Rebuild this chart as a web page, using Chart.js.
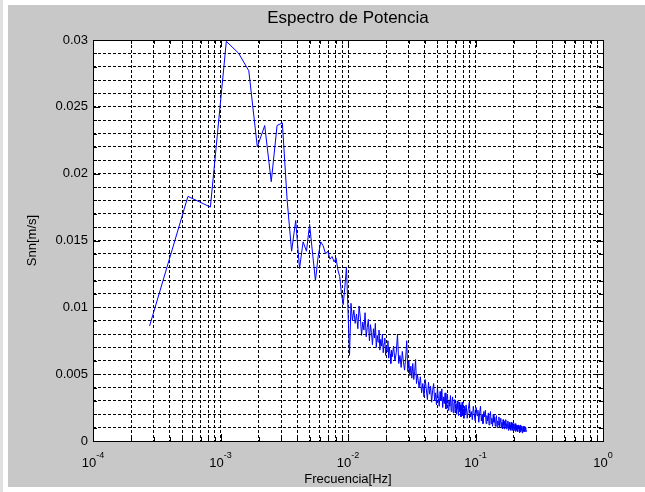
<!DOCTYPE html>
<html>
<head>
<meta charset="utf-8">
<script src="https://cdn.jsdelivr.net/npm/chart.js@4.4.1/dist/chart.umd.min.js"></script>
<style>
    body { margin: 0; background: #fff; width: 645px; height: 492px; overflow: hidden; position: relative; }
    #strip { position: absolute; left: 0; top: 0; width: 3px; height: 492px; background: #e0e0e0; }
    #fig { position: absolute; left: 8px; top: 5px; width: 637px; height: 482px; background: #c8c8c8; }
</style>
</head>
<body>
<div id="strip"></div>
<div id="fig"><canvas id="spectrum" width="637" height="482"></canvas></div>
<script>
// frequency resolution of the spectrum (1 hour record)
const binHz = 1 / 3600;

const bins = [
    1, 2, 3, 4, 5, 6, 7, 8, 9, 10,
    11, 12, 13, 14, 15, 16, 17, 18, 19, 20,
    21, 22, 23, 24, 25, 26, 27, 28, 29, 30,
    31, 32, 33, 34, 35, 36, 37, 38, 39, 40,
    41, 42, 43, 44, 45, 46, 47, 48, 49, 50,
    51, 52, 53, 54, 55, 56, 57, 58, 59, 60,
    61, 62, 63, 64, 65, 66, 67, 68, 69, 70,
    71, 72, 73, 74, 75, 76, 77, 78, 79, 80,
    82, 84, 86, 88, 90, 92, 94, 96, 98, 100,
    102, 104, 106, 108, 110, 112, 114, 116, 118, 120,
    122, 124, 126, 128, 130,
    133, 136, 139, 142, 145, 148, 151, 154, 157, 160,
    163, 166, 169, 172, 175, 178, 181, 184, 187, 190,
    193, 196, 199, 202, 205, 208, 211, 214, 217, 220,
    223, 226, 229, 232, 235, 238, 241, 244, 247, 250,
    253, 256, 259, 262, 265, 268, 271, 274, 277, 280,
    283, 286, 289, 292, 295, 298,
    304, 310, 316, 322, 328, 334, 340, 346, 352, 358,
    364, 370, 376, 382, 388, 394, 400, 406, 412, 418,
    424, 430, 436, 442, 448, 454, 460, 466, 472, 478,
    484, 490, 496, 502, 508, 514, 520, 526, 532, 538,
    544, 550, 556, 562, 568, 574, 580, 586, 592, 598,
    604, 610, 616, 622, 628, 634, 640, 646, 652, 658,
    664, 670, 676, 682, 688, 694, 700, 706, 712, 718,
    724, 730, 736, 742, 748, 754, 760, 766, 772, 778,
    784, 790, 796, 802, 808, 814, 820, 826, 832, 838,
    844, 850, 856, 862, 868, 874, 880, 886, 892, 898,
    900
];

// Snn values for each bin
const snn = [
    0.0086, 0.0183, 0.0175, 0.0299, 0.0290, 0.0277, 0.0220, 0.0236, 0.0194, 0.0236,
    0.0238, 0.0180, 0.0142, 0.0165, 0.0129, 0.0149, 0.0142, 0.0162, 0.0140, 0.0120,
    0.0138, 0.0149, 0.0146, 0.0140, 0.0142, 0.0136, 0.0138, 0.0134, 0.0137, 0.0128,
    0.0123, 0.0110, 0.0102, 0.0115, 0.0130, 0.0098, 0.0064, 0.0103, 0.0090, 0.0098,
    0.0088, 0.0095, 0.0084, 0.0101, 0.0092, 0.0079, 0.0089, 0.0083, 0.0096, 0.0078,
    0.0085, 0.0091, 0.0075, 0.0087, 0.0081, 0.0072, 0.0084, 0.0077, 0.0088, 0.0070,
    0.0079, 0.0074, 0.0083, 0.0068, 0.0076, 0.0071, 0.0080, 0.0066, 0.0073, 0.0077,
    0.0064, 0.0071, 0.0067, 0.0075, 0.0062, 0.0070, 0.0065, 0.0058, 0.0068, 0.0063,
    0.0071, 0.0060, 0.0066, 0.0080, 0.0058, 0.0064, 0.0055, 0.0067, 0.0059, 0.0053,
    0.0062, 0.0075, 0.0052, 0.0060, 0.0049, 0.0056, 0.0047, 0.0058, 0.0046, 0.0052,
    0.0061, 0.0043, 0.0050, 0.0045, 0.0040,
    0.0048, 0.0036, 0.0043, 0.0033, 0.0046, 0.0039, 0.0031, 0.0044, 0.0035, 0.0041,
    0.0029, 0.0038, 0.0043, 0.0030, 0.0036, 0.0027, 0.0040, 0.0032, 0.0026, 0.0037,
    0.0030, 0.0039, 0.0025, 0.0033, 0.0028, 0.0036, 0.0024, 0.0031, 0.0035, 0.0023,
    0.0030, 0.0026, 0.0034, 0.0022, 0.0029, 0.0033, 0.0021, 0.0027, 0.0031, 0.0022,
    0.0028, 0.0020, 0.0030, 0.0024, 0.0019, 0.0029, 0.0022, 0.0027, 0.0018, 0.0025,
    0.0029, 0.0019, 0.0024, 0.0017, 0.0026, 0.0020,
    0.0027, 0.0017, 0.0024, 0.0029, 0.0018, 0.0022, 0.0016, 0.0026, 0.0020, 0.0015,
    0.0025, 0.0019, 0.0023, 0.0014, 0.0021, 0.0026, 0.0015, 0.0020, 0.0013, 0.0022,
    0.0018, 0.0023, 0.0013, 0.0019, 0.0015, 0.0021, 0.0012, 0.0018, 0.0022, 0.0013,
    0.0017, 0.0011, 0.0020, 0.0014, 0.0018, 0.0011, 0.0016, 0.0019, 0.0010, 0.0015,
    0.0012, 0.0018, 0.0010, 0.0015, 0.0017, 0.0010, 0.0014, 0.0009, 0.0016, 0.0012,
    0.0009, 0.0015, 0.0011, 0.0016, 0.0009, 0.0013, 0.0010, 0.0015, 0.0008, 0.0012,
    0.0014, 0.0009, 0.0012, 0.0008, 0.0014, 0.0010, 0.0013, 0.0008, 0.0011, 0.0013,
    0.0008, 0.0011, 0.0013, 0.0007, 0.0010, 0.0012, 0.0008, 0.0011, 0.0007, 0.0012,
    0.0009, 0.0011, 0.0006, 0.0010, 0.0012, 0.0007, 0.0010, 0.0008, 0.0011, 0.0006,
    0.0009, 0.0011, 0.0007, 0.0010, 0.0008, 0.0011, 0.0007, 0.0009, 0.0010, 0.0007,
    0.0008
];

// axis ticks
const xDecades = [1e-4, 1e-3, 1e-2, 1e-1, 1];
const xTickExponents = ["-4", "-3", "-2", "-1", "0"];
const yMajorTicks = [0, 0.005, 0.01, 0.015, 0.02, 0.025, 0.03];
const yTickLabels = ["0", "0.005", "0.01", "0.015", "0.02", "0.025", "0.03"];

const FONT = "'Liberation Sans', Arial, sans-serif";

// log minor positions 1..9 in each decade
function logTickValues() {
    const out = [];
    for (let d = 0; d < xDecades.length - 1; d++) {
        for (let m = 1; m <= 9; m++) out.push(m * xDecades[d]);
    }
    out.push(xDecades[xDecades.length - 1]);
    return out;
}

// white plot area, black box, inward ticks and 10^n labels
const matlabAxes = {
    id: "matlabAxes",
    beforeDraw(chart) {
        const a = chart.chartArea;
        const ctx = chart.ctx;
        ctx.save();
        ctx.fillStyle = "#fff";
        ctx.fillRect(a.left, a.top, a.right - a.left, a.bottom - a.top);
        ctx.restore();
    },
    afterDraw(chart) {
        const a = chart.chartArea;
        const ctx = chart.ctx;
        const xs = chart.scales.x;
        const ys = chart.scales.y;
        ctx.save();
        ctx.strokeStyle = "#000";
        ctx.lineWidth = 1;
        ctx.setLineDash([]);
        ctx.beginPath();
        // x ticks
        logTickValues().forEach(v => {
            const px = Math.round(xs.getPixelForValue(v)) + 0.5;
            const len = xDecades.some(d => Math.abs(d - v) < d * 1e-9) ? 7 : 4;
            ctx.moveTo(px, a.bottom); ctx.lineTo(px, a.bottom - len);
            ctx.moveTo(px, a.top); ctx.lineTo(px, a.top + len);
        });
        // y ticks
        ys.ticks.forEach(t => {
            const py = Math.round(ys.getPixelForValue(t.value)) + 0.5;
            const len = yMajorTicks.some(m => Math.abs(m - t.value) < 1e-7) ? 7 : 4;
            ctx.moveTo(a.left, py); ctx.lineTo(a.left + len, py);
            ctx.moveTo(a.right, py); ctx.lineTo(a.right - len, py);
        });
        ctx.stroke();
        ctx.strokeRect(Math.round(a.left) + 0.5, Math.round(a.top) + 0.5,
            Math.round(a.right - a.left), Math.round(a.bottom - a.top));

        // decade labels with superscript
        ctx.fillStyle = "#000";
        ctx.textBaseline = "middle";
        ctx.textAlign = "left";
        xDecades.forEach((d, i) => {
            const px = xs.getPixelForValue(d);
            ctx.font = "13px " + FONT;
            const wBase = ctx.measureText("10").width;
            ctx.font = "9px " + FONT;
            const wExp = ctx.measureText(xTickExponents[i]).width;
            const x0 = px - (wBase + wExp) / 2;
            ctx.font = "13px " + FONT;
            ctx.fillText("10", x0, a.bottom + 22);
            ctx.font = "9px " + FONT;
            ctx.fillText(xTickExponents[i], x0 + wBase, a.bottom + 15);
        });
        ctx.restore();
    }
};

const gridStyle = {
    color: "#000",
    lineWidth: 1,
    drawTicks: false,
    drawOnChartArea: true
};

new Chart(document.getElementById("spectrum"), {
    type: "line",
    data: {
        datasets: [{
            label: "Snn",
            data: bins.map((b, i) => ({ x: b * binHz, y: snn[i] })),
            borderColor: "#0000ff",
            borderWidth: 1,
            pointRadius: 0,
            tension: 0,
            fill: false
        }]
    },
    options: {
        responsive: false,
        animation: false,
        devicePixelRatio: 1,
        layout: { padding: { left: 0, right: 42, top: 0, bottom: 0 } },
        plugins: {
            legend: { display: false },
            tooltip: { enabled: false },
            title: {
                display: true,
                text: "Espectro de Potencia",
                color: "#000",
                fullSize: false,
                font: { family: FONT, size: 17, weight: "normal" },
                padding: { top: 3, bottom: 11.6 }
            }
        },
        scales: {
            x: {
                type: "logarithmic",
                min: 1e-4,
                max: 1,
                afterBuildTicks: scale => {
                    scale.ticks = logTickValues().map(v => ({ value: v }));
                },
                afterFit: scale => { scale.height = 46; },
                grid: gridStyle,
                border: { display: false, dash: [3, 2] },
                ticks: { display: false },
                title: {
                    display: true,
                    text: "Frecuencia[Hz]",
                    color: "#000",
                    font: { family: FONT, size: 13 },
                    padding: { top: 0, bottom: 0 }
                }
            },
            y: {
                type: "linear",
                min: 0,
                max: 0.03,
                afterFit: scale => { scale.width = 85; },
                grid: gridStyle,
                border: { display: false, dash: [3, 2] },
                ticks: {
                    stepSize: 0.001,
                    autoSkip: false,
                    padding: 5,
                    color: "#000",
                    font: { family: FONT, size: 13 },
                    callback: value => {
                        const i = yMajorTicks.findIndex(m => Math.abs(m - value) < 1e-7);
                        return i >= 0 ? yTickLabels[i] : "";
                    }
                },
                title: {
                    display: true,
                    text: "Snn[m/s]",
                    color: "#000",
                    font: { family: FONT, size: 13 },
                    padding: { top: 17, bottom: 0 }
                }
            }
        }
    },
    plugins: [matlabAxes]
});
</script>
</body>
</html>
